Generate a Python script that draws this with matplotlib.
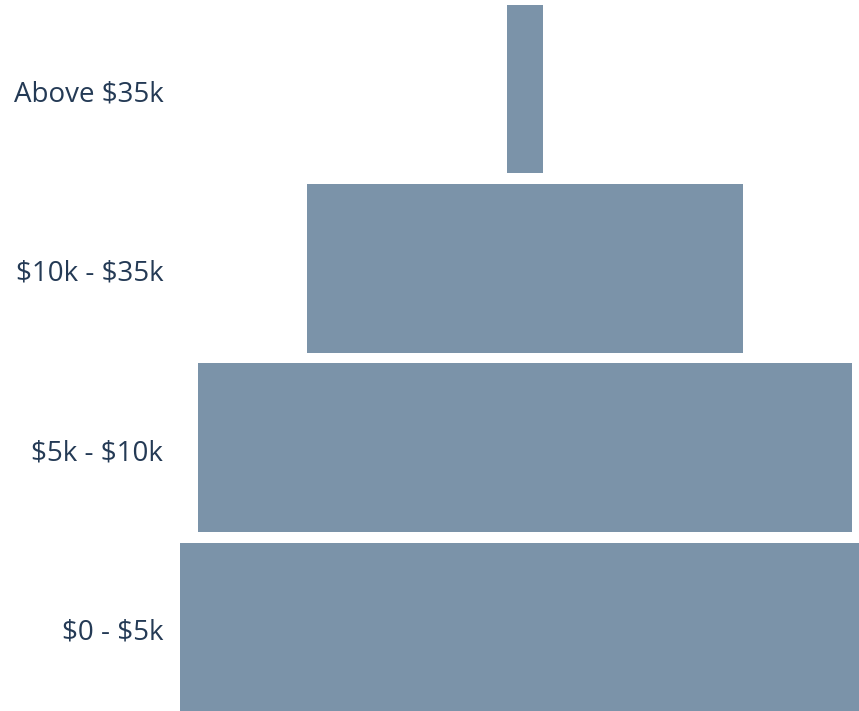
import matplotlib.pyplot as plt
import matplotlib.transforms as mtransforms

# income brackets, bottom to top
brackets = ['$0 - $5k', '$5k - $10k', '$10k - $35k', 'Above $35k']
counts = [1000, 948, 632, 52]

bar_color = '#7b93a9'
text_color = '#243a55'

plt.rcParams['font.family'] = ['Open Sans', 'DejaVu Sans']
plt.rcParams['text.parse_math'] = False

fig = plt.figure(figsize=(8.59, 7.11), dpi=100)
ax = fig.add_axes([180 / 859, 0, 1 - 180 / 859, 1])

ypos = range(len(brackets))
lefts = [-c / 2 for c in counts]
ax.barh(ypos, counts, left=lefts, height=0.94, color=bar_color)

ax.set_xlim(-500, 484)
ax.set_ylim(-0.468, 3.496)
ax.set_yticks(list(ypos))
ax.set_yticklabels(brackets, fontsize=20, color=text_color)
ax.tick_params(axis='y', length=0, pad=12)
ax.set_xticks([])
for s in ax.spines.values():
    s.set_visible(False)

# nudge labels down a touch
shift = mtransforms.ScaledTranslation(0, -2 / 100, fig.dpi_scale_trans)
for lbl in ax.get_yticklabels():
    lbl.set_transform(lbl.get_transform() + shift)

fig.savefig('out.png', dpi=100)
